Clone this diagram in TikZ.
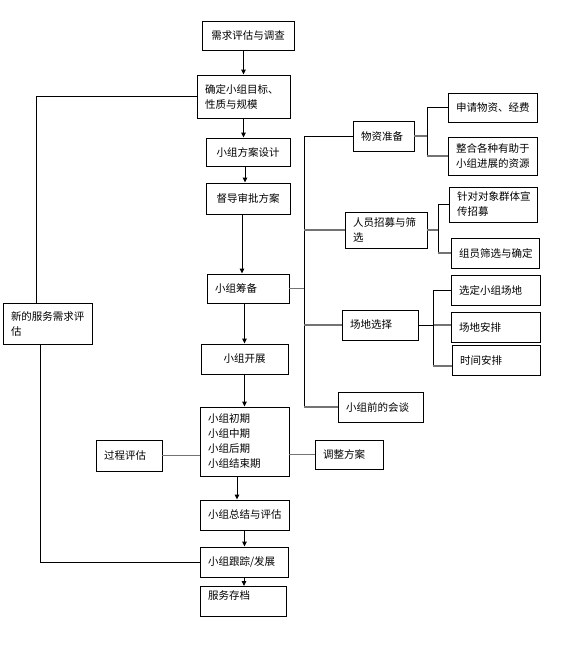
\documentclass[tikz,border=0pt]{standalone}
\usepackage{fontspec}
\newfontfamily\cjk{Noto Sans CJK SC}
\usetikzlibrary{arrows.meta,calc}
\begin{document}
\begin{tikzpicture}[x=1pt,y=-1pt,
  box/.style={draw,line width=0.9pt,inner xsep=8pt,inner ysep=1pt,align=left,
    font=\cjk\fontsize{10.5}{15}\selectfont},
  cbox/.style={box,align=center},
  arr/.style={draw,line width=0.9pt,-{Triangle[length=5pt,width=4.5pt]}},
  ln/.style={draw,line width=0.9pt},
  gln/.style={draw,line width=1.1pt,black!55}]
\useasboundingbox[fill=white] (0,0) rectangle (562,649);
% main column
\node[cbox,text width=76pt,minimum height=29pt] (n1) at (248,35.5) {需求评估与调查};
\node[box,text width=77pt,minimum height=43pt] (n2) at (243.5,96.5) {确定小组目标、\\性质与规模};
\node[cbox,text width=68pt,minimum height=28pt] (n3) at (248,152) {小组方案设计};
\node[cbox,text width=68pt,minimum height=31pt] (n4) at (248,198.5) {督导审批方案};
\node[box,text width=66pt,minimum height=29pt] (n5) at (248,288.5) {小组筹备};
\node[cbox,text width=71pt,minimum height=30pt] (n6) at (244.5,359) {小组开展};
\node[box,text width=73pt,minimum height=69pt] (n7) at (244.5,441.5) {小组初期\\小组中期\\小组后期\\小组结束期};
\node[box,text width=50pt,minimum height=31pt] (n8) at (129,455.5) {过程评估};
\node[box,text width=52pt,minimum height=29pt] (n9) at (349,454.5) {调整方案};
\node[box,text width=73pt,minimum height=30pt] (n10) at (244.5,515) {小组总结与评估};
\node[box,text width=72pt,minimum height=30pt] (n11) at (244,562) {小组跟踪/发展};
\node[box,text width=70pt,minimum height=30pt,anchor=north] (n12) at (243,586) {服务存档\\[-2pt]\mbox{}};
\node[box,text width=73pt,minimum height=41pt] (n13) at (47.5,323.5) {新的服务需求评\\估};
% right side
\node[box,text width=45pt,minimum height=30pt] (n14) at (383.5,136) {物资准备};
\node[box,text width=73pt,minimum height=29pt] (n15) at (492.5,107.5) {申请物资、经费};
\node[box,text width=73pt,minimum height=38pt] (n16) at (492.5,156) {整合各种有助于\\小组进展的资源};
\node[box,text width=66pt,minimum height=36pt] (n17) at (386,230) {人员招募与筛\\选};
\node[box,text width=72pt,minimum height=35pt] (n18) at (493,204.5) {针对对象群体宣\\传招募};
\node[box,text width=72pt,minimum height=30pt] (n19) at (495,253) {组员筛选与确定};
\node[box,text width=60pt,minimum height=30pt] (n20) at (380,325) {场地选择};
\node[box,text width=73pt,minimum height=30pt] (n21) at (495.5,290) {选定小组场地};
\node[box,text width=73pt,minimum height=30pt] (n22) at (495.5,327) {场地安排};
\node[box,text width=72pt,minimum height=30pt] (n23) at (496,360) {时间安排};
\node[box,text width=69pt,minimum height=30pt] (n24) at (380.5,407) {小组前的会谈};
\coordinate (sp) at (304,0);
\coordinate (b1) at (427,0);
\coordinate (b2) at (438,0);
\coordinate (b3) at (433,0);
\coordinate (lx) at (36,0);
\coordinate (lx2) at (40,0);
% main arrows
\draw[arr] (n1.south -| n2) -- (n2.north);
\draw[arr] (n2.south) -- (n2.south |- n3.north);
\draw[arr] ([xshift=-3pt]n3.south) -- ([xshift=-3pt]n4.north);
\draw[arr] ([xshift=-6pt]n4.south) -- ([xshift=-6pt]n5.north);
\draw[arr] (n6.north |- n5.south) -- (n6.north);
\draw[arr] (n6.south) -- (n7.north);
\draw[arr] ([xshift=-7.5pt]n7.south) -- ([xshift=-7.5pt]n10.north);
\draw[arr] (n10.south) -- (n10.south |- n11.north);
\draw[arr] (n11.south) -- (n11.south |- n12.north);
\draw[gln] (n8.east) -- (n8.east -| n7.west);
\draw[gln] (n9.west -| n7.east) -- (n9.west);
% feedback loop
\draw[ln] (n2.west) -- (n2.west -| lx) -- (n13.north -| lx);
\draw[ln] (n13.south -| lx2) -- (n11.west -| lx2) -- (n11.west);
% spine
\draw[ln] (n14.west) -- (n14.west -| sp) -- (n24.west -| sp);
\draw[gln] (n24.west -| sp) -- (n24.west);
\draw[gln] (n17.west -| sp) -- (n17.west);
\draw[gln] (n5.east) -- (n5.east -| sp);
\draw[gln] (n20.west -| sp) -- (n20.west);
% brackets
\draw[gln] (n14.east) -- (n14.east -| b1);
\draw[ln] (n15.west) -- (n15.west -| b1) -- (n16.west -| b1);
\draw[gln] (n16.west -| b1) -- (n16.west);
\draw[gln] (n17.east) -- (n17.east -| b2);
\draw[ln] (n18.west) -- (n18.west -| b2) -- (n19.west -| b2);
\draw[gln] (n19.west -| b2) -- (n19.west);
\draw[ln] (n20.east) -- (n20.east -| b3);
\draw[gln] (n20.east -| b3) -- (n20.east -| n22.west);
\draw[ln] (n21.west) -- (n21.west -| b3) -- ([yshift=-6pt]n23.west -| b3);
\draw[gln] ([yshift=-6pt]n23.west -| b3) -- ([yshift=-6pt]n23.west);
\end{tikzpicture}
\end{document}
